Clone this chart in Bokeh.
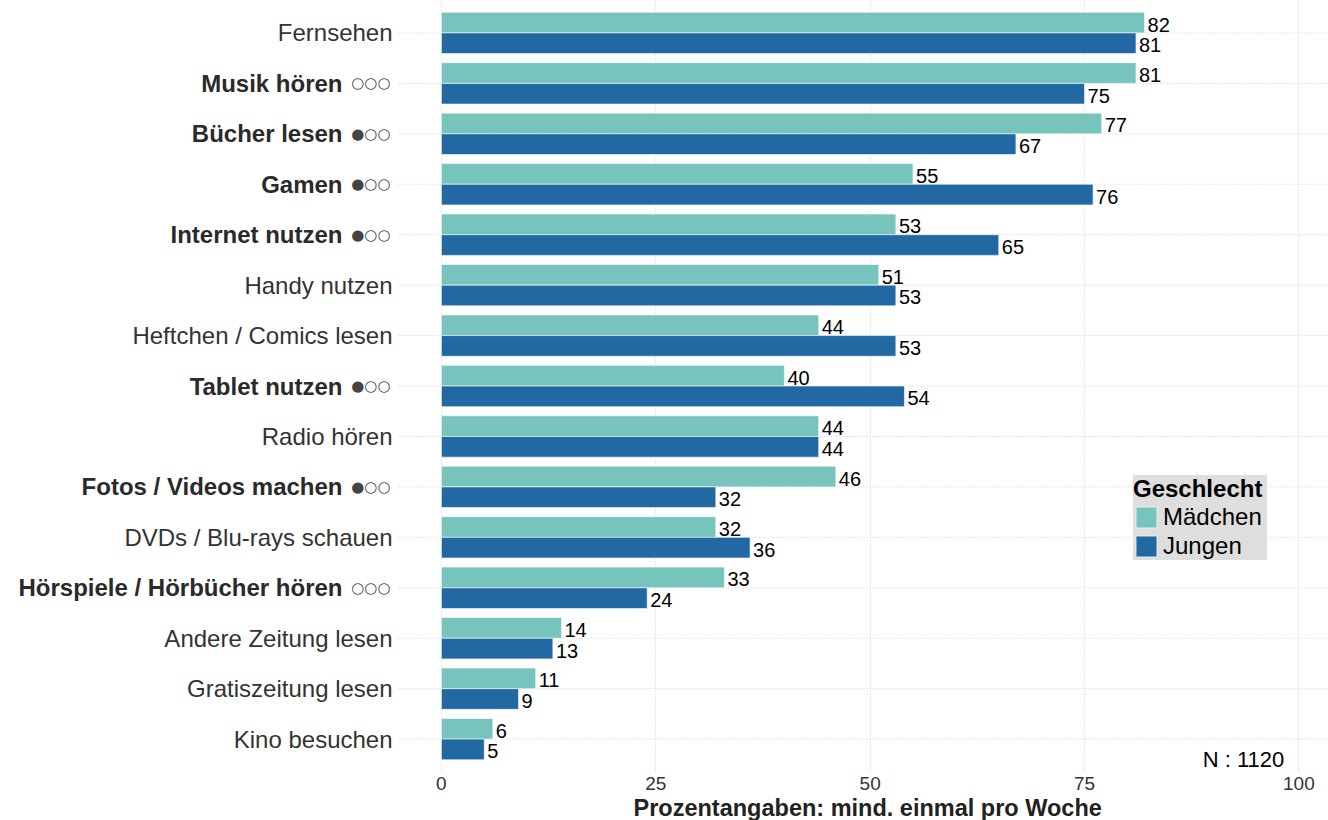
from bokeh.plotting import figure
from bokeh.models import ColumnDataSource, Range1d, FixedTicker, LabelSet, Label, Title
from bokeh.core.properties import value
from bokeh.embed import file_html
from bokeh.resources import INLINE

# ---- data ----
categories = ["Fernsehen", "Musik hören", "Bücher lesen", "Gamen", "Internet nutzen",
              "Handy nutzen", "Heftchen / Comics lesen", "Tablet nutzen", "Radio hören",
              "Fotos / Videos machen", "DVDs / Blu-rays schauen", "Hörspiele / Hörbücher hören",
              "Andere Zeitung lesen", "Gratiszeitung lesen", "Kino besuchen"]
markers = ["", "○○○", "●○○", "●○○", "●○○", "", "", "●○○", "", "●○○", "", "○○○", "", "", ""]
maedchen = [82, 81, 77, 55, 53, 51, 44, 40, 44, 46, 32, 33, 14, 11, 6]
jungen = [81, 75, 67, 76, 65, 53, 53, 54, 44, 32, 36, 24, 13, 9, 5]
x_ticks = [0, 25, 50, 75, 100]
series_names = ["Mädchen", "Jungen"]
legend_title = "Geschlecht"
x_title = "Prozentangaben: mind. einmal pro Woche"
n_text = "N : 1120"

# ---- style / layout ----
colors = ["#76c4bc", "#2268a3"]
FONT = "Liberation Sans"
bar_h = 0.41
px_per_unit = 8.575
x_start = -440.9 / px_per_unit
x_end = (1328 - 440.9) / px_per_unit
grid_left = -5.0
spacing = 50.54
frame_h = 773.5
n = len(categories)
y_end = n + 32.5 / spacing
y_start = y_end - frame_h / spacing

pos = [n - i for i in range(n)]
is_bold = [bool(m) for m in markers]
src = ColumnDataSource(dict(
    pos=pos,
    y_m=[p_ + bar_h / 2 for p_ in pos],
    y_j=[p_ - bar_h / 2 for p_ in pos],
    maedchen=maedchen,
    jungen=jungen,
    m_txt=[str(v) for v in maedchen],
    j_txt=[str(v) for v in jungen],
    gl=[grid_left] * n,
    gr=[x_end] * n,
))
norm_src = ColumnDataSource(dict(
    pos=[pos[i] for i in range(n) if not is_bold[i]],
    name=[categories[i] for i in range(n) if not is_bold[i]],
    x=[grid_left] * (n - sum(is_bold)),
))
bold_src = ColumnDataSource(dict(
    pos=[pos[i] for i in range(n) if is_bold[i]],
    name=[categories[i] for i in range(n) if is_bold[i]],
    mark=[markers[i] for i in range(n) if is_bold[i]],
    x=[grid_left] * sum(is_bold),
))

p = figure(width=1328, height=820, x_range=Range1d(x_start, x_end), y_range=Range1d(y_start, y_end),
           output_backend="svg", toolbar_location=None,
           min_border_left=0, min_border_right=0, min_border_top=0, min_border_bottom=0)
p.outline_line_color = None
p.background_fill_color = "white"
p.border_fill_color = "white"

# horizontal dotted grid (starting at the panel's left edge)
p.segment(x0="gl", x1="gr", y0="pos", y1="pos", source=src, line_color="#cfcfcf",
          line_dash="1 2", line_width=1, level="underlay")

p.hbar(y="y_m", left=0, right="maedchen", height=bar_h, source=src,
       fill_color=colors[0], line_color="white", line_width=0.6, legend_label=series_names[0])
p.hbar(y="y_j", left=0, right="jungen", height=bar_h, source=src,
       fill_color=colors[1], line_color="white", line_width=0.6, legend_label=series_names[1])

# x axis
xa = p.xaxis[0]
xa.ticker = FixedTicker(ticks=x_ticks)
xa.axis_line_color = None
xa.major_tick_line_color = None
xa.minor_tick_line_color = None
xa.major_tick_out = 0
xa.major_label_text_font = FONT
xa.major_label_text_font_size = "19px"
xa.major_label_text_color = "#333333"
xa.major_label_standoff = 4

# axis title centred on the data panel
p.add_layout(Title(text=x_title, align="left", offset=633, standoff=0,
                   text_font=FONT, text_font_style="bold", text_font_size="23.5px",
                   text_color="#222222"), "below")

p.yaxis.visible = False
p.ygrid.visible = False
g = p.xgrid[0]
g.grid_line_color = "#cfcfcf"
g.grid_line_dash = "1 2"
g.grid_line_width = 1

# category labels
p.text(x="x", y="pos", text="name", source=norm_src, x_offset=-6,
       text_align="right", text_baseline="middle", text_font=value(FONT),
       text_font_size="24px", text_color="#333333")
p.text(x="x", y="pos", text="name", source=bold_src, x_offset=-56,
       text_align="right", text_baseline="middle", text_font=value(FONT),
       text_font_size="24px", text_font_style="bold", text_color="#2a2a2a")
p.text(x="x", y="pos", text="mark", source=bold_src, x_offset=-8,
       text_align="right", text_baseline="middle", text_font=value("DejaVu Sans"),
       text_font_size="15px", text_color="#444444")

# value labels
for col, ycol, xcol in (("m_txt", "y_m", "maedchen"), ("j_txt", "y_j", "jungen")):
    p.add_layout(LabelSet(x=xcol, y=ycol, text=col, source=src, x_offset=3, y_offset=-2,
                          text_align="left", text_baseline="middle", text_font=value(FONT),
                          text_font_size="20px", text_color="black"))

p.add_layout(Label(x=98.3, y=y_start, text=n_text, text_align="right", text_baseline="bottom",
                   y_offset=1, text_font=FONT, text_font_size="22px", text_color="black"))

lg = p.legend[0]
lg.location = (1133, 212)
lg.title = legend_title
lg.title_text_font = FONT
lg.title_text_font_style = "bold"
lg.title_text_font_size = "24px"
lg.title_text_color = "black"
lg.title_standoff = 0
lg.label_text_font = FONT
lg.label_text_font_size = "24px"
lg.label_text_color = "black"
lg.background_fill_color = "#dedede"
lg.background_fill_alpha = 1
lg.border_line_color = None
lg.glyph_width = 26
lg.glyph_height = 26
lg.label_height = 26
lg.label_width = 104
lg.label_standoff = 4
lg.spacing = 1
lg.padding = 8
lg.margin = 0

open("out.html", "w").write(file_html(p, INLINE))
